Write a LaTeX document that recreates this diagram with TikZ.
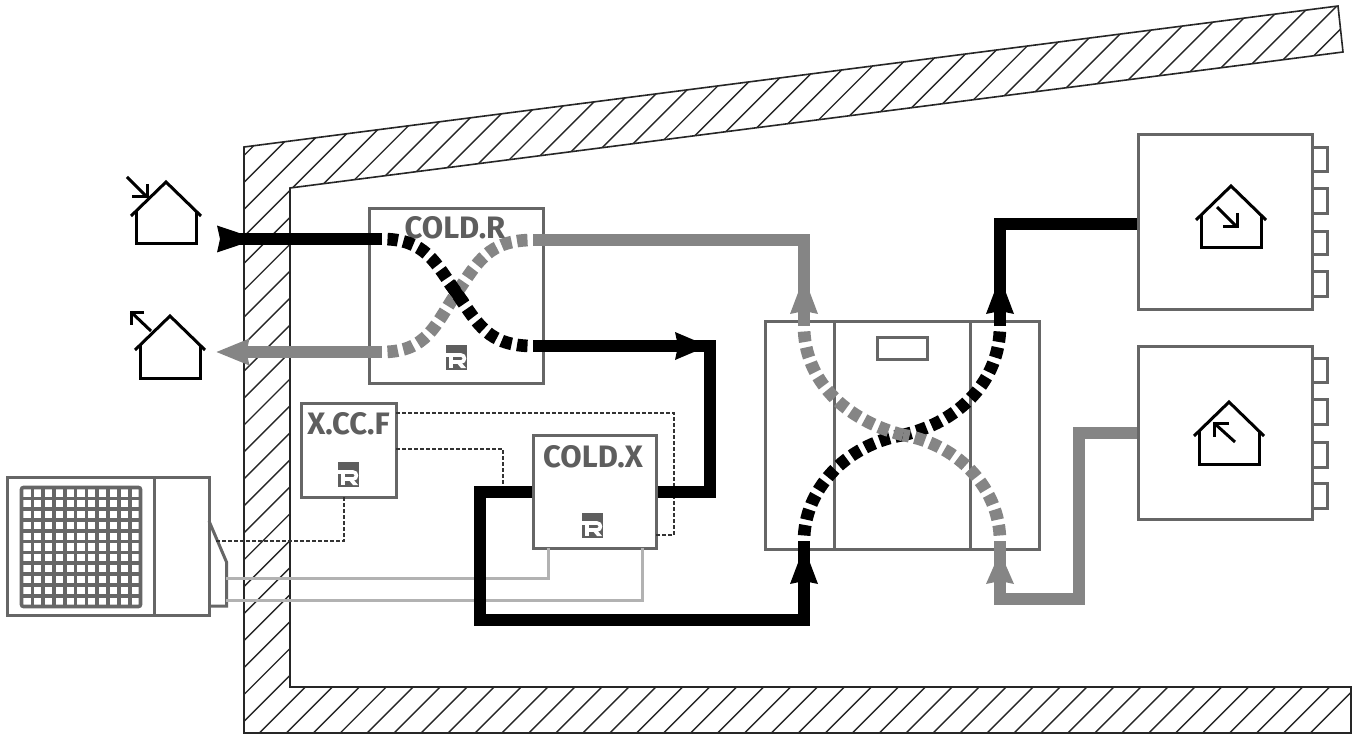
\documentclass[tikz,border=0pt]{standalone}
\usepackage{fontspec}
\setmainfont{Fira Sans}
\usetikzlibrary{calc}
\definecolor{boxgray}{HTML}{666666}
\definecolor{flowgray}{HTML}{858585}
\definecolor{pipegray}{HTML}{B2B2B2}
\definecolor{textgray}{HTML}{5E5E5E}
\tikzset{
  wall/.style={draw=black!85,line width=1.6pt,line join=miter},
  hatchline/.style={draw=black!85,line width=1.4pt},
  unitbox/.style={draw=boxgray,line width=3pt,rectangle,inner sep=0pt,minimum width=#1},
  outline/.style={draw=boxgray,line width=3pt,line join=miter},
  blackflow/.style={draw=black,line width=12.6pt,line join=miter},
  grayflow/.style={draw=flowgray,line width=12.6pt,line join=miter},
  blackdash/.style={draw=black,line width=12.6pt,dash pattern=on 10.5pt off 5.5pt,dash phase=10.5pt},
  graydash/.style={draw=flowgray,line width=12.6pt,dash pattern=on 10.5pt off 5.5pt,dash phase=10.5pt},
  pipe/.style={draw=pipegray,line width=3pt,line join=miter},
  ctrl/.style={draw=black!80,line width=1.3pt,dash pattern=on 4pt off 2pt},
  houseline/.style={draw=black,line width=3pt,line join=miter},
  unitlabel/.style={font=\bfseries\fontsize{31}{31}\selectfont,text=textgray,inner sep=0pt,anchor=center},
}
% flow arrow head: tip at (#1,#2), pointing along angle #3
\newcommand{\flowhead}[6]{\fill[#4,shift={(#1,#2)},rotate=#3] (0,0) -- (-#5,#6) -- (-#5+3,0) -- (-#5,-#6) -- cycle;}
% R logo, top-left corner at (#1,#2)
\newcommand{\rlogo}[2]{%
  \begin{scope}[shift={(#1,#2)}]
    \fill[textgray] (0,0) rectangle (21,25);
    \draw[white,line width=3.6pt,line join=miter] (0,10) -- (15,10) .. controls (19.5,10) and (19.5,17) .. (15,17) -- (5,17);
    \fill[white] (2.5,12) rectangle (7,23);
    \fill[white] (10,17) -- (15,17) -- (20,23) -- (15,23) -- cycle;
  \end{scope}}
% house: apex at (#1,#2)
\newcommand{\housepic}[2]{%
  \draw[houseline] (#1-35,#2+34) -- (#1,#2) -- (#1+35,#2+34);
  \draw[houseline] (#1-30,#2+29) -- (#1-30,#2+62) -- (#1+30,#2+62) -- (#1+30,#2+29);}
% small arrow: from (#1,#2) to (#3,#4), barbs to (#5,#6), (#7,#8)
\newcommand{\smallarrow}[8]{%
  \draw[houseline] (#1,#2) -- (#3,#4);
  \draw[houseline] (#5,#6) -- (#3,#4) -- (#7,#8);}
\begin{document}
\begin{tikzpicture}[x=1pt,y=-1pt]
\useasboundingbox (0,0) rectangle (1357,735);
\fill[white] (0,0) rectangle (1357,735);
% wall
\begin{scope}
  \clip (244,147) -- (1338,6) -- (1343,52) -- (290,188) -- (290,687) -- (1351,687) -- (1351,733) -- (244,733) -- cycle;
  \foreach \k in {-10,...,51} {
    \pgfmathsetmacro{\c}{669+26.95*\k}
    \draw[hatchline] (\c-760,760) -- (\c,0);
  }
\end{scope}
\draw[wall] (244,147) -- (1338,6) -- (1343,52) -- (290,188) -- (290,687) -- (1351,687) -- (1351,733) -- (244,733) -- cycle;
% unit boxes
\node[unitbox=174pt,minimum height=174pt] (coldR) at (456.5,296) {};
\node[unitbox=95pt,minimum height=94pt] (xccf) at (348.5,450) {};
\node[unitbox=123pt,minimum height=113pt] (coldX) at (594.5,491.5) {};
\node[unitbox=274pt,minimum height=228pt] (ahu) at (902,435) {};
\node[unitbox=174pt,minimum height=174pt] (fan1) at (1225,222) {};
\node[unitbox=174pt,minimum height=173pt] (fan2) at (1225,432.5) {};
\draw[outline] (834,321) -- (834,549);
\draw[outline] (970,321) -- (970,549);
\node[unitbox=50pt,minimum height=22pt] (panel) at (902,348) {};
\node[unitlabel] (labR) at (455,228) {COLD.R};
\node[unitlabel] (labF) at (348.5,424) {X.CC.F};
\node[unitlabel] (labX) at (593,457) {COLD.X};
\rlogo{446}{345}
\rlogo{338}{462}
\rlogo{582}{513}
% diffuser outlets
\foreach \a/\b in {148/172,189/214,232/255,272/297,358/382,399/424,442/467,483/508}
  \draw[outline] (1312,\a) -- (1327,\a) -- (1327,\b) -- (1312,\b);
% outdoor unit
\node[unitbox=202pt,minimum height=138pt] (odu) at (108,546) {};
\draw[outline] (154,477) -- (154,615);
\draw[outline] (209,521) -- (226.5,562) -- (226.5,606) -- (209,606);
\begin{scope}[draw=boxgray,line width=3.6pt]
  \draw[rounded corners=2pt] (21.5,487.5) rectangle (140.5,606.5);
  \foreach \i in {1,...,10} {
    \draw (21.5+10.82*\i,487.5) -- (21.5+10.82*\i,606.5);
    \draw (21.5,487.5+10.82*\i) -- (140.5,487.5+10.82*\i);
  }
\end{scope}
% named ports
\coordinate (oduS) at (216,541);
\coordinate (oduA) at (226,578);
\coordinate (oduB) at (226,600);
% control wiring
\draw[ctrl] (oduS) -- (344,541) -- (344,497);
\draw[ctrl] (396,413) -- (674,413) -- (674,535) -- (656,535);
\draw[ctrl] (396,449) -- (503,449) -- (503,487);
% refrigerant pipes
\draw[pipe] (oduA) -- (548,578) -- (548,548);
\draw[pipe] (oduB) -- (642,600) -- (642,548);
% flows around COLD.R
\coordinate (rTL) at (382,239);
\coordinate (rBR) at (533,346);
\coordinate (rTR) at (533,240);
\coordinate (rBL) at (382,352);
\coordinate (rC) at (456.5,293);
\draw[graydash] (rTR) .. controls (488,240) and (478,262) .. (rC);
\draw[graydash] (rBL) .. controls (427,352) and (435,325) .. (rC);
\draw[blackdash] (rTL) .. controls (425,239) and (435,262) .. (rC);
\draw[blackdash] (rBR) .. controls (488,346) and (478,324) .. (rC);
\coordinate (rBlobA) at (449,283);
\coordinate (rBlobB) at (464,303);
\draw[draw=black,line width=12pt] (rBlobA) -- (rBlobB);
\draw[blackflow] (225,239) -- (rTL);
\flowhead{257}{239}{0}{black}{40}{13.5}
\draw[grayflow] (240,352) -- (rBL);
\flowhead{216.5}{352}{180}{flowgray}{33}{13.5}
\draw[blackflow] (rBR) -- (710,346) -- (710,492) -- (coldX.east |- 0,492);
\flowhead{708}{346}{0}{black}{33}{14}
\draw[grayflow] (rTR) -- (804,240) -- (804,326);
\flowhead{804}{277}{90}{flowgray}{37}{14}
% flows through AHU
\coordinate (aC) at (903,435);
\coordinate (aTL) at (804,326);
\coordinate (aTR) at (1000,326);
\coordinate (aBL) at (804,541);
\coordinate (aBR) at (1000,541);
\draw[blackdash] (aTR) .. controls (1000,380) and (960,422) .. (aC);
\draw[blackdash] (aBL) .. controls (804,490) and (845,445) .. (aC);
\draw[graydash] (aTL) .. controls (804,380) and (845,420) .. (aC);
\draw[graydash] (aBR) .. controls (1000,490) and (960,445) .. (aC);
\draw[blackflow] (coldX.west |- 0,492) -- (480,492) -- (480,620) -- (804,620) -- (aBL);
\flowhead{804}{547}{90}{black}{37}{14}
\draw[blackflow] (aTR) -- (1000,224) -- (fan1.west |- 0,224);
\flowhead{1000}{277}{90}{black}{37}{14}
\draw[grayflow] (aBR) -- (1000,599) -- (1079,599) -- (1079,433) -- (fan2.west |- 0,433);
\flowhead{1000}{552}{90}{flowgray}{32}{14}
% house icons
\housepic{166}{182}
\smallarrow{127}{177}{147}{197}{147}{184}{132}{197}
\housepic{170}{316}
\smallarrow{151}{331}{131}{312}{144}{312}{131}{325}
\housepic{1231}{186}
\smallarrow{1217}{207}{1237}{227}{1237}{213}{1223}{227}
\housepic{1229}{402}
\smallarrow{1235}{442}{1214}{423}{1229}{423}{1214}{437}
\end{tikzpicture}
\end{document}
